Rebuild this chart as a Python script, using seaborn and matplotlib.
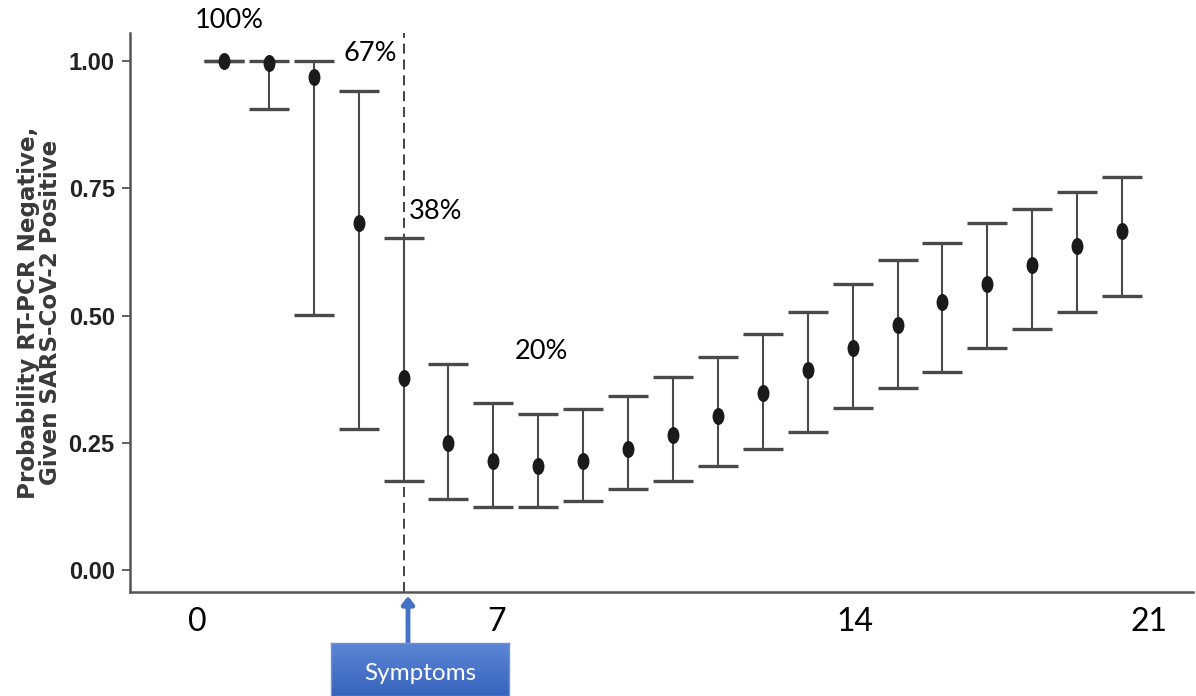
import numpy as np
import seaborn as sns
import matplotlib.pyplot as plt
import matplotlib.path as mpath
from matplotlib.transforms import Affine2D

# days since exposure, probability of a negative RT-PCR and its interval
days = list(range(1, 22))
prob = [1.00, 0.997, 0.969, 0.682, 0.377, 0.250, 0.215, 0.205, 0.215, 0.237, 0.265,
        0.303, 0.347, 0.393, 0.436, 0.481, 0.526, 0.562, 0.599, 0.637, 0.667]
upper = [1.00, 1.00, 1.00, 0.942, 0.653, 0.405, 0.328, 0.306, 0.317, 0.342, 0.380,
         0.419, 0.464, 0.507, 0.562, 0.609, 0.642, 0.682, 0.709, 0.743, 0.773]
lower = [1.00, 0.906, 0.501, 0.278, 0.175, 0.140, 0.124, 0.124, 0.136, 0.160, 0.175,
         0.205, 0.237, 0.272, 0.318, 0.357, 0.390, 0.437, 0.474, 0.507, 0.538]

symptom_day = 5
y_ticks = [0.00, 0.25, 0.50, 0.75, 1.00]
# the day labels sit a little off the real day positions in the original
x_tick_pos = [0.40, 7.08, 15.05, 21.6]
x_tick_labels = ["0", "7", "14", "21"]
# percentage call-outs (text, x in days, y in probability units)
notes = ["100%", "67%", "38%", "20%"]
note_x = [1.13, 4.25, 5.72, 8.08]
note_y = [1.080, 1.015, 0.705, 0.430]

sns.set_style("white")
plt.rcParams['font.family'] = ['Lato', 'DejaVu Sans']

fig = plt.figure(figsize=(11.96, 6.96), dpi=100)
ax = fig.add_axes([0.1087, 0.1494, 0.8888, 0.8032])

prob_a = np.array(prob)
yerr = [prob_a - np.array(lower), np.array(upper) - prob_a]
ax.errorbar(days, prob, yerr=yerr, fmt='none', ecolor='#4a4a4a',
            elinewidth=1.5, capsize=14.4, capthick=2.4, zorder=2)

# slightly tall oval marker like the original
oval = mpath.Path.unit_circle().transformed(Affine2D().scale(0.7, 1.0))
sns.scatterplot(x=days, y=prob, ax=ax, marker=oval, s=150, color='#1a1a1a',
                edgecolor='#1a1a1a', linewidth=0, zorder=3)

ax.axvline(symptom_day, color='#222222', lw=1.2, dashes=(6, 3.5), zorder=1)

ax.set_xlim(-1.09, 22.58)
ax.set_ylim(-0.043, 1.055)

ax.set_yticks(y_ticks)
ax.set_yticklabels([f"{v:.2f}" for v in y_ticks], family='Liberation Sans',
                   fontweight='bold', fontsize=17, color='#222222')
ax.tick_params(axis='y', direction='out', length=6, width=1.3,
               color='#555555', pad=5, left=True)

ax.set_xticks(x_tick_pos)
ax.set_xticklabels(x_tick_labels, fontsize=23, color='black')
ax.tick_params(axis='x', length=0, pad=11)

for side in ['top', 'right']:
    ax.spines[side].set_visible(False)
for side in ['left', 'bottom']:
    ax.spines[side].set_color('#555555')
    ax.spines[side].set_linewidth(1.8)

ax.set_ylabel("Probability RT-PCR Negative,\nGiven SARS-CoV-2 Positive",
              family='DejaVu Sans', fontweight='bold', fontsize=16.6,
              color='#3a3a3a', linespacing=0.95)
ax.yaxis.set_label_coords(-0.064, 0.5)

for txt, xx, yy in zip(notes, note_x, note_y):
    ax.text(xx, yy, txt, fontsize=19.5, ha='center', va='center', color='black')

# "Symptoms" box with a soft blue gradient
bax = fig.add_axes([0.2768, 0.0, 0.1488, 0.0761])
grad = np.linspace(0, 1, 64).reshape(-1, 1)
bax.imshow(grad, aspect='auto', cmap=sns.blend_palette(['#5c86d4', '#3763bd'], as_cmap=True),
           extent=[0, 1, 0, 1])
bax.set_xticks([])
bax.set_yticks([])
for sp in bax.spines.values():
    sp.set_color('#6f93d8')
    sp.set_linewidth(1)
bax.text(0.5, 0.43, "Symptoms", color='white', fontsize=17.5, ha='center',
         va='center', transform=bax.transAxes)

# arrow pointing from the box to the symptom day on the axis
fig_h = 696
ax.annotate("", xy=(408, fig_h - 596), xytext=(408, fig_h - 643),
            xycoords='figure pixels', textcoords='figure pixels',
            arrowprops=dict(arrowstyle='-|>,head_width=0.35,head_length=0.45',
                            color='#4472c4', lw=3.5, shrinkA=0, shrinkB=0))

fig.savefig("out.png", dpi=100)
